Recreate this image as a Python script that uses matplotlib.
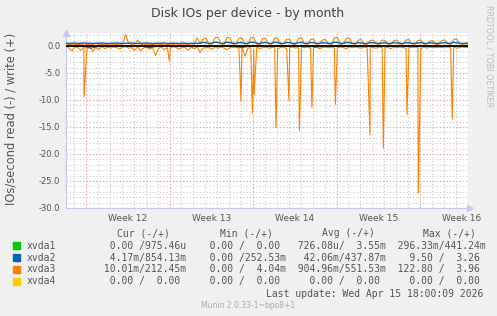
import numpy as np
import matplotlib
matplotlib.use('Agg')
import matplotlib.pyplot as plt
from matplotlib.patches import Rectangle

# time in days from the left edge of the graph, 4 samples per day
samples_per_day = 4
x_end = 33.7
week_starts = [1.68, 8.68, 15.68, 22.68, 29.68]
week_labels = ['Week 12', 'Week 13', 'Week 14', 'Week 15', 'Week 16']

# xvda3 (orange) write, positive side
xvda3_write = [
    0.2, 0.3, 0.2, 0.3,  0.3, 0.2, 0.4, 0.3,  0.2, 0.3, 0.5, 0.2,  0.3, 0.2, 0.3, 0.4,
    0.2, 0.3, 0.2, 0.4,  2.1, 0.5, 0.3, 0.2,  1.1, 0.3, 0.2, 0.3,  0.2, 0.3, 0.2, 0.2,
    0.3, 0.2, 0.3, 0.2,  0.3, 0.4, 0.2, 0.3,  0.2, 0.3, 0.4, 0.3,  1.5, 0.4, 1.3, 1.4,
    0.3, 0.4, 1.5, 1.6,  0.4, 0.3, 1.6, 1.5,  0.3, 0.4, 1.4, 1.5,  0.4, 0.3, 1.6, 1.5,
    0.3, 0.3, 1.4, 1.3,  0.4, 0.3, 1.5, 1.4,  0.3, 0.4, 1.3, 1.2,  0.3, 0.3, 1.4, 1.5,
    0.4, 0.3, 1.2, 1.3,  0.3, 0.4, 1.1, 1.2,  0.4, 0.3, 1.5, 1.6,  0.3, 0.4, 1.4, 1.5,
    0.4, 0.3, 1.1, 1.2,  0.3, 0.3, 1.0, 1.1,  0.4, 0.3, 1.1, 1.0,  0.3, 0.4, 1.0, 1.1,
    0.3, 0.3, 1.1, 1.2,  0.4, 0.3, 1.0, 1.1,  0.3, 0.4, 0.9, 1.0,  0.3, 0.3, 1.0, 1.1,
    0.4, 0.3, 1.2, 1.3,  0.4, 0.3, 0.4, 0.3,
]

# xvda3 read, negative side (baseline samples)
xvda3_read = [
    -0.1, -0.4, -0.9, -0.2,  -0.3, -0.8, -0.2, -0.6,  -0.2, -1.0, -0.3, -0.7,  -0.1, -0.5, -0.2, -0.4,
    -0.2, -0.3, -0.6, -0.2,  -0.1, -0.4, -0.3, -0.8,  -0.2, -0.9, -0.4, -0.2,  -0.6, -0.3, -1.8, -0.5,
    -0.2, -0.7, -0.3, -0.4,  -0.1, -0.3, -0.6, -0.2,  -0.3, -0.8, -0.2, -0.5,  -0.2, -1.2, -0.4, -0.3,
    -0.3, -0.6, -0.2, -0.4,  -0.2, -0.4, -0.7, -0.3,  -0.3, -0.2, -0.5, -0.2,  -1.9, -0.4, -0.3, -0.6,
    -0.2, -0.5, -0.3, -0.2,  -0.4, -0.3, -0.2, -0.5,  -0.3, -0.2, -0.6, -0.3,  -0.2, -0.4, -0.3, -0.2,
    -0.3, -0.2, -0.4, -0.3,  -0.2, -0.5, -0.3, -0.2,  -0.3, -0.2, -0.4, -0.3,  -0.2, -0.3, -0.5, -0.2,
    -0.3, -0.2, -0.3, -0.4,  -0.2, -0.3, -0.2, -0.3,  -0.4, -0.2, -0.3, -0.2,  -0.3, -0.5, -0.2, -0.3,
    -0.2, -0.3, -0.4, -0.2,  -0.3, -0.2, -0.3, -0.5,  -0.2, -0.4, -0.2, -0.3,  -0.3, -0.2, -0.3, -0.2,
    -0.2, -0.3, -0.2, -0.4,  -0.3, -0.2, -0.3, -0.2,
]

# xvda3 read bursts
spike_days = [1.51, 8.66, 14.67, 15.62, 15.76, 17.60, 18.69, 19.56, 20.62, 22.58,
              25.48, 26.60, 28.59, 29.53, 32.38]
spike_values = [-9.4, -2.8, -10.2, -12.5, -9.0, -15.2, -10.1, -15.7, -11.4, -10.8,
                -16.5, -18.9, -12.7, -27.3, -13.6]

# xvda2 (blue)
xvda2_write = [
    0.5, 0.45, 0.5, 0.55,  0.45, 0.5, 0.55, 0.5,  0.5, 0.45, 0.5, 0.5,  0.55, 0.5, 0.45, 0.5,
    0.5, 0.55, 0.5, 0.45,  0.5, 0.5, 0.55, 0.5,  0.45, 0.5, 0.5, 0.55,  0.5, 0.45, 0.5, 0.5,
    0.5, 0.55, 0.45, 0.5,  0.5, 0.5, 0.45, 0.55,  0.5, 0.45, 0.5, 0.5,  0.45, 0.5, 0.65, 0.6,
    0.45, 0.5, 0.7, 0.65,  0.45, 0.5, 0.7, 0.6,  0.5, 0.45, 0.65, 0.6,  0.45, 0.5, 0.7, 0.65,
    0.5, 0.45, 0.6, 0.65,  0.45, 0.5, 0.7, 0.6,  0.5, 0.45, 0.65, 0.6,  0.45, 0.5, 0.6, 0.65,
    0.5, 0.45, 0.65, 0.6,  0.45, 0.5, 0.6, 0.55,  0.5, 0.45, 0.7, 0.65,  0.45, 0.5, 0.65, 0.6,
    0.5, 0.45, 0.6, 0.55,  0.45, 0.5, 0.6, 0.6,  0.5, 0.45, 0.55, 0.6,  0.45, 0.5, 0.6, 0.55,
    0.5, 0.45, 0.6, 0.6,  0.45, 0.5, 0.55, 0.6,  0.5, 0.45, 0.6, 0.55,  0.45, 0.5, 0.55, 0.6,
    0.5, 0.45, 0.65, 0.6,  0.5, 0.45, 0.5, 0.5,
]
xvda2_read = [
    -0.05, -0.1, -0.05, -0.4,  -0.05, -0.1, -0.05, -0.05,  -0.1, -0.05, -0.3, -0.05,
    -0.05, -0.1, -0.05, -0.05,  -0.1, -0.05, -0.05, -0.1,  -0.05, -0.3, -0.05, -0.05,
    -0.1, -0.05, -0.05, -0.1,  -0.05, -0.05, -0.2, -0.05,  -0.05, -0.1, -0.05, -0.05,
    -0.1, -0.05, -0.05, -0.1,  -0.05, -0.05, -0.1, -0.05,  -0.05, -0.1, -0.05, -0.05,
]
xvda2_read_step = 0.7  # days between the xvda2 read samples
xvda1_days = [0.0, 33.7]
xvda1_read = [0.0, 0.0]
xvda4_days = [0.0, 33.7]
xvda4_read = [0.0, 0.0]

# legend
devices = ['xvda1', 'xvda2', 'xvda3', 'xvda4']
colors = ['#00CC00', '#0066B3', '#FF8000', '#FFCC00']
cur = [('0.00', '975.46u'), ('4.17m', '854.13m'), ('10.01m', '212.45m'), ('0.00', '0.00')]
mins = [('0.00', '0.00'), ('0.00', '252.53m'), ('0.00', '4.04m'), ('0.00', '0.00')]
avgs = [('726.08u', '3.55m'), ('42.06m', '437.87m'), ('904.96m', '551.53m'), ('0.00', '0.00')]
maxs = [('296.33m', '441.24m'), ('9.50', '3.26'), ('122.80', '3.96'), ('0.00', '0.00')]

W, H = 497, 316
fig = plt.figure(figsize=(W / 100, H / 100), dpi=100, facecolor='#F0F0F0')
ax = fig.add_axes([66 / W, 1 - 208 / H, (468 - 66) / W, (208 - 33) / H], facecolor='white')
ax.set_xlim(0, x_end)
ax.set_ylim(-30, 2.4)

# grid
for d in np.arange(week_starts[0] - 1, x_end, 1.0):
    ax.axvline(d, color='#C8C8C8', lw=0.8, ls=(0, (1, 2)), zorder=0)
for y in range(-30, 3):
    ax.axhline(y, color='#C8C8C8', lw=0.8, ls=(0, (1, 2)), zorder=0)
for d in week_starts:
    ax.axvline(d, color='#F0A0A0', lw=0.8, ls=(0, (1, 2)), zorder=0.5)
for y in range(-30, 1, 5):
    ax.axhline(y, color='#F0A0A0', lw=0.8, ls=(0, (1, 2)), zorder=0.5)

t = np.arange(len(xvda3_write)) / samples_per_day
tr = np.concatenate([t, spike_days])
vr = np.concatenate([xvda3_read, spike_values])
order = np.argsort(tr)
t2 = np.arange(len(xvda2_read)) * xvda2_read_step

ax.plot(xvda1_days, xvda1_read, color=colors[0], lw=0.8)
ax.plot(tr[order], vr[order], color=colors[2], lw=0.8, zorder=2)
ax.plot(t, xvda3_write, color=colors[2], lw=0.8, zorder=2)
ax.plot(t2, xvda2_read, color=colors[1], lw=0.8, zorder=3)
ax.plot(t, xvda2_write, color=colors[1], lw=1.0, zorder=3)
ax.plot(xvda4_days, xvda4_read, color=colors[3], lw=0.8, zorder=3)
ax.axhline(0, color='black', lw=1.3, zorder=4)

for s in ['top', 'right']:
    ax.spines[s].set_visible(False)
for s in ['left', 'bottom']:
    ax.spines[s].set_color('#C8C8F0')
    ax.spines[s].set_linewidth(0.8)
ax.plot([0], [1.0], marker='^', color='#C8C8F0', ms=4, transform=ax.transAxes, clip_on=False)
ax.plot([1.005], [0], marker='>', color='#C8C8F0', ms=4, transform=ax.transAxes, clip_on=False)

ax.set_yticks(range(-30, 1, 5))
ax.set_yticklabels(['%.1f' % v for v in range(-30, 1, 5)], fontsize=6, color='#555555')
ax.set_xticks([w + 3.5 for w in week_starts])
ax.set_xticklabels(week_labels, fontsize=6.5, color='#555555')
ax.tick_params(axis='both', length=0, pad=4)

fig.text(248 / W, 1 - 14 / H, 'Disk IOs per device - by month', ha='center', va='center',
         fontsize=9, color='#444444')
fig.text(11 / W, 1 - 119 / H, 'IOs/second read (-) / write (+)', rotation=90, ha='center',
         va='center', fontsize=8.3, color='#555555')
fig.text(488.5 / W, 1 - 56 / H, 'RRDTOOL / TOBI OETIKER', rotation=270, ha='center',
         va='center', fontsize=5.8, color='#BBBBBB')


def cell(pair):
    out = []
    for s in pair:
        if s[-1].isalpha():
            out.append(s[:-1].rjust(6) + s[-1])
        else:
            out.append(s.rjust(6) + ' ')
    return out[0] + '/' + out[1]


mono = dict(family='DejaVu Sans Mono', fontsize=7, color='#555555', va='center')
for label, x in zip(['Cur (-/+)', 'Min (-/+)', 'Avg (-/+)', 'Max (-/+)'], [116.7, 220, 321.7, 423]):
    fig.text(x / W, 1 - 233.3 / H, label, ha='left', **mono)
rows_y = [245.7, 257.7, 269.3, 281.3]
for i, dev in enumerate(devices):
    y = rows_y[i]
    fig.patches.append(Rectangle((13.3 / W, 1 - (y + 3.5) / H), 7 / W, 7 / H,
                                 transform=fig.transFigure, color=colors[i]))
    fig.text(26.7 / W, 1 - y / H, dev, ha='left', **mono)
    line = '  '.join([cell(cur[i]), cell(mins[i]), cell(avgs[i]), cell(maxs[i])])
    fig.text(98.5 / W, 1 - y / H, line, ha='left', **mono)

fig.text(483 / W, 1 - 294 / H, 'Last update: Wed Apr 15 18:00:09 2026', ha='right', **mono)
fig.text(248 / W, 1 - 305 / H, 'Munin 2.0.33-1~bpo8+1', ha='center', va='center',
         fontsize=5.5, color='#AAAAAA')

fig.savefig('out.png', dpi=100, facecolor=fig.get_facecolor())
